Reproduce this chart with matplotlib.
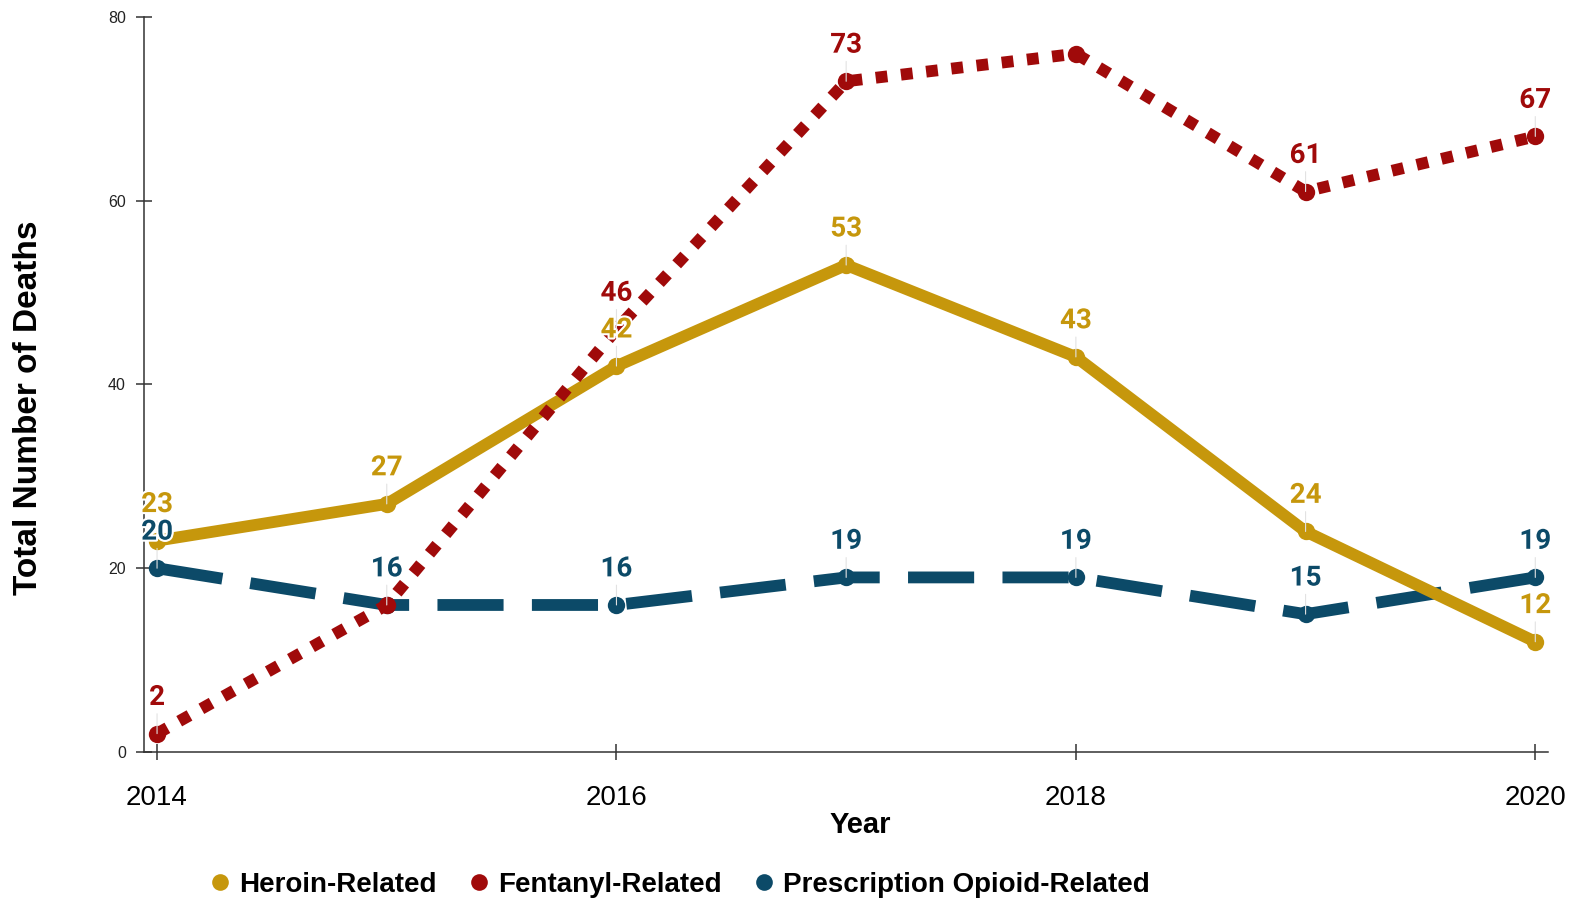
import matplotlib
matplotlib.use("Agg")
import matplotlib.pyplot as plt
import matplotlib.patheffects as pe
from matplotlib.lines import Line2D

# Data
years = [2014, 2015, 2016, 2017, 2018, 2019, 2020]
heroin = [23, 27, 42, 53, 43, 24, 12]
fentanyl = [2, 16, 46, 73, 76, 61, 67]
prescription = [20, 16, 16, 19, 19, 15, 19]

# which point labels are visible in the original (some are hidden)
heroin_show = [True, True, True, True, True, True, True]
fentanyl_show = [True, False, True, True, False, True, True]
prescription_show = [True, True, True, True, True, True, True]

series_names = ["Heroin-Related", "Fentanyl-Related", "Prescription Opioid-Related"]
colors = ["#C6970C", "#A00A0A", "#0C4A68"]

x_ticks = [2014, 2016, 2018, 2020]
y_ticks = [0, 20, 40, 60, 80]

plt.rcParams['font.family'] = ['Liberation Sans', 'DejaVu Sans']

fig = plt.figure(figsize=(15.75, 8.98), dpi=100)
ax = fig.add_axes([0.0914, 0.1626, 0.8917, 0.8185])

lw = 8.5
styles = [
    dict(linestyle='-'),
    dict(linestyle=(0, (1.0, 1.15))),
    dict(linestyle=(0, (5.6, 2.4))),
]
all_values = [heroin, fentanyl, prescription]
all_show = [heroin_show, fentanyl_show, prescription_show]
zorders = [3, 4, 2]

for vals, col, st, z in zip(all_values, colors, styles, zorders):
    ax.plot(years, vals, color=col, lw=lw, dash_capstyle='butt',
            solid_capstyle='butt', marker='o', markersize=12.5,
            markeredgewidth=0, zorder=z, **st)

# point labels with faint leader lines
for vals, shows, col in zip(all_values, all_show, colors):
    for x, y, s in zip(years, vals, shows):
        if not s:
            continue
        ax.annotate(str(y), xy=(x, y), xytext=(0, 26), textcoords='offset points',
                    ha='center', va='center', color=col, fontsize=20,
                    fontweight='bold', family=['Roboto', 'DejaVu Sans'],
                    arrowprops=dict(arrowstyle='-', color='#e2e2e2', lw=0.8,
                                    shrinkA=0, shrinkB=0),
                    path_effects=[pe.withStroke(linewidth=3, foreground='white')],
                    zorder=6)

ax.set_xlim(2013.943, 2020.057)
ax.set_ylim(0, 80)
ax.set_xticks(x_ticks)
ax.set_yticks(y_ticks)

for side in ['top', 'right']:
    ax.spines[side].set_visible(False)
for side in ['left', 'bottom']:
    ax.spines[side].set_color('#333333')
    ax.spines[side].set_linewidth(1.1)

ax.tick_params(axis='x', direction='inout', length=12, width=1.1, color='#333333',
               labelsize=20, pad=18)
ax.tick_params(axis='y', direction='inout', length=12, width=1.1, color='#333333',
               labelsize=11.5, pad=7, labelcolor='#222222')

ax.set_xlabel("Year", fontsize=21, fontweight='bold', va='center')
ax.xaxis.set_label_coords(0.51, -0.1)
ax.set_ylabel("Total Number of Deaths", fontsize=24, fontweight='bold', va='center')
ax.yaxis.set_label_coords(-0.082, 0.469)

handles = [Line2D([], [], linestyle='none', marker='o', markersize=12,
                  markerfacecolor=c, markeredgewidth=0) for c in colors]
fig.legend(handles, series_names, loc='center', bbox_to_anchor=(678 / 1575, 1 - 885 / 898),
           ncol=3, frameon=False, prop=dict(size=20, weight='bold'),
           handletextpad=0.2, columnspacing=1.0, handlelength=1.0)

fig.savefig("out.png", dpi=100)
